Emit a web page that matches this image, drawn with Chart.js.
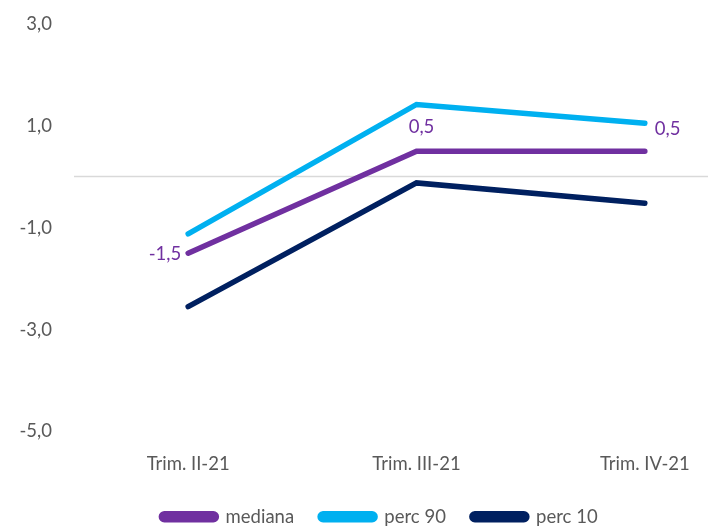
<!DOCTYPE html>
<html lang="es">
<head>
    <meta charset="UTF-8">
    <title>Mediana y percentiles</title>
    <style>
        body {
            margin: 0;
            overflow: hidden;
            background: #fff;
        }
        #wrap {
            width: 792px;
            height: 536px;
        }
    </style>
    <script src="https://cdn.jsdelivr.net/npm/chart.js"></script>
</head>
<body>
    <div id="wrap"><canvas id="chart" width="792" height="536"></canvas></div>

    <script>
        const categories = ['Trim. II-21', 'Trim. III-21', 'Trim. IV-21'];
        const mediana = [-1.5, 0.5, 0.5];
        const perc90 = [-1.12, 1.42, 1.05];
        const perc10 = [-2.55, -0.12, -0.52];
        const yTicks = [3, 1, -1, -3, -5];

        const fontFam = 'Lato, "Open Sans", sans-serif';
        const grey = '#595959';
        const fSize = 18.5;

        // línea del cero (no es un tick)
        const zeroLine = {
            id: 'zeroLine',
            beforeDatasetsDraw(chart) {
                const y = Math.round(chart.scales.y.getPixelForValue(0)) - 0.5;
                const a = chart.chartArea;
                const ctx = chart.ctx;
                ctx.save();
                ctx.strokeStyle = '#d9d9d9';
                ctx.lineWidth = 1.5;
                ctx.beginPath();
                ctx.moveTo(a.left, y);
                ctx.lineTo(a.right, y);
                ctx.stroke();
                ctx.restore();
            }
        };

        // etiquetas de la mediana (-1,5 / 0,5 / 0,5)
        const medianLabels = {
            id: 'medianLabels',
            afterDatasetsDraw(chart) {
                const meta = chart.getDatasetMeta(0);
                const ctx = chart.ctx;
                ctx.save();
                ctx.font = fSize + 'px ' + fontFam;
                ctx.fillStyle = '#7030A0';
                ctx.textBaseline = 'middle';
                const txt = v => v.toFixed(1).replace('.', ',');
                let p = meta.data[0];
                ctx.textAlign = 'right';
                ctx.fillText(txt(mediana[0]), p.x - 7, p.y + 1);
                p = meta.data[1];
                ctx.textAlign = 'center';
                ctx.fillText(txt(mediana[1]), p.x + 5, p.y - 24);
                p = meta.data[2];
                ctx.textAlign = 'left';
                ctx.fillText(txt(mediana[2]), p.x + 10, p.y - 22);
                ctx.restore();
            }
        };

        const ctx = document.getElementById('chart').getContext('2d');
        new Chart(ctx, {
            type: 'line',
            data: {
                labels: categories,
                datasets: [
                    { label: 'mediana', data: mediana, borderColor: '#7030A0', backgroundColor: '#7030A0' },
                    { label: 'perc 90', data: perc90, borderColor: '#00B0F0', backgroundColor: '#00B0F0' },
                    { label: 'perc 10', data: perc10, borderColor: '#002060', backgroundColor: '#002060' }
                ]
            },
            options: {
                responsive: false,
                animation: false,
                layout: { padding: { top: 24, right: 33, bottom: 0, left: 0 } },
                elements: {
                    line: { borderWidth: 5.5, borderCapStyle: 'round', tension: 0 },
                    point: { radius: 0, hoverRadius: 0 }
                },
                scales: {
                    x: {
                        offset: true,
                        afterFit(axis) { axis.height = 50; },
                        grid: { display: false, drawTicks: false },
                        border: { display: false },
                        ticks: { color: grey, font: { family: fontFam, size: fSize }, padding: 21 }
                    },
                    y: {
                        min: -5,
                        max: 3,
                        afterBuildTicks(axis) {
                            axis.ticks = yTicks.map(v => ({ value: v }));
                        },
                        afterFit(axis) {
                            axis.width = 74;
                            axis.paddingTop = 0;
                            axis.paddingBottom = 0;
                        },
                        grid: { drawTicks: false, color: 'rgba(0,0,0,0)' },
                        border: { display: false },
                        ticks: {
                            color: grey,
                            font: { family: fontFam, size: fSize },
                            padding: 22,
                            callback: v => v.toFixed(1).replace('.', ',')
                        }
                    }
                },
                plugins: {
                    legend: {
                        position: 'bottom',
                        labels: {
                            color: grey,
                            font: { family: fontFam, size: fSize },
                            boxWidth: 55,
                            boxHeight: 6,
                            padding: 26,
                            useBorderRadius: true,
                            borderRadius: 3
                        }
                    },
                    tooltip: { enabled: false }
                }
            },
            plugins: [zeroLine, medianLabels]
        });
    </script>
</body>
</html>
